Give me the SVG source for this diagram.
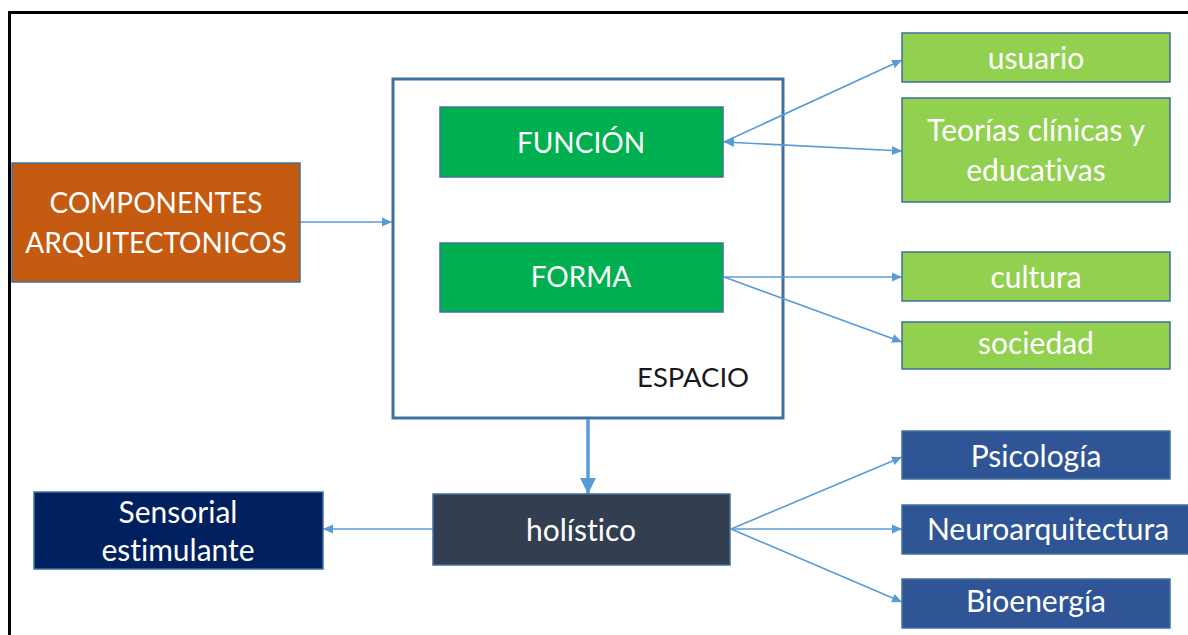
<svg xmlns="http://www.w3.org/2000/svg" width="1188" height="635" viewBox="0 0 1188 635">
<defs>
<style>
.t{font-family:Lato,"Liberation Sans",sans-serif;font-size:30px;fill:#ffffff;text-anchor:middle;font-variant-ligatures:none}
.u{font-size:28px}
.k{font-family:Lato,"Liberation Sans",sans-serif;font-size:27.5px;fill:#1a1a1a;font-variant-ligatures:none}
.box{stroke:#41719C;stroke-width:1.5}
.c{stroke:#5B9BD5;stroke-width:1.6;fill:none}
</style>
<marker id="ah" markerUnits="userSpaceOnUse" markerWidth="12" markerHeight="10" refX="10" refY="5" orient="auto-start-reverse" viewBox="0 0 12 10">
<path d="M0,0.5 L10,5 L0,9.5 Z" fill="#5B9BD5"/>
</marker>
<marker id="ahb" markerUnits="userSpaceOnUse" markerWidth="18" markerHeight="18" refX="16" refY="9" orient="auto" viewBox="0 0 18 18">
<path d="M0,1 L16,9 L0,17 Z" fill="#5B9BD5"/>
</marker>
</defs>
<rect width="1188" height="635" fill="#ffffff"/>
<rect x="9.5" y="12.5" width="1200" height="640" fill="none" stroke="#000000" stroke-width="3"/>

<g id="espacio">
<rect x="393" y="79" width="390" height="339" fill="#ffffff" stroke="#41719C" stroke-width="3"/>
<text class="k" x="637" y="387">ESPACIO</text>
</g>

<g id="connectors">
<line class="c" x1="300" y1="222" x2="392" y2="222" marker-end="url(#ah)"/>
<line class="c" x1="724" y1="142" x2="902" y2="60" marker-end="url(#ah)"/>
<line class="c" x1="724" y1="142" x2="902" y2="151" marker-start="url(#ah)" marker-end="url(#ah)"/>
<line class="c" x1="724" y1="277" x2="902" y2="277" marker-end="url(#ah)"/>
<line class="c" x1="724" y1="277" x2="902" y2="342" marker-end="url(#ah)"/>
<line x1="588" y1="419" x2="588" y2="494" stroke="#5B9BD5" stroke-width="3.5" marker-end="url(#ahb)"/>
<line class="c" x1="433" y1="529" x2="323" y2="529" marker-end="url(#ah)"/>
<line class="c" x1="731" y1="529" x2="902" y2="457" marker-end="url(#ah)"/>
<line class="c" x1="731" y1="529" x2="902" y2="529" marker-end="url(#ah)"/>
<line class="c" x1="731" y1="529" x2="902" y2="602" marker-end="url(#ah)"/>
</g>

<g id="componentes">
<rect class="box" x="12" y="163" width="288" height="119" fill="#C55A11"/>
<text class="t u" x="156" y="213">COMPONENTES</text>
<text class="t u" x="156" y="253">ARQUITECTONICOS</text>
</g>

<g id="funcion">
<rect class="box" x="440" y="107" width="283" height="70" fill="#00B050"/>
<text class="t u" x="581" y="153">FUNCIÓN</text>
</g>

<g id="forma">
<rect class="box" x="440" y="243" width="283" height="69" fill="#00B050"/>
<text class="t u" x="581" y="287">FORMA</text>
</g>

<g id="usuario">
<rect class="box" x="902" y="33" width="268" height="49" fill="#92D050"/>
<text class="t" x="1036" y="69">usuario</text>
</g>

<g id="teorias">
<rect class="box" x="902" y="98" width="268" height="104" fill="#92D050"/>
<text class="t" x="1036" y="141">Teorías clínicas y</text>
<text class="t" x="1036" y="181">educativas</text>
</g>

<g id="cultura">
<rect class="box" x="902" y="252" width="268" height="49" fill="#92D050"/>
<text class="t" x="1036" y="288">cultura</text>
</g>

<g id="sociedad">
<rect class="box" x="902" y="322" width="268" height="47" fill="#92D050"/>
<text class="t" x="1036" y="354">sociedad</text>
</g>

<g id="holistico">
<rect class="box" x="433" y="494" width="297" height="71" fill="#333F50"/>
<text class="t" x="581" y="541">holístico</text>
</g>

<g id="sensorial">
<rect class="box" x="34" y="492" width="289" height="77" fill="#002060"/>
<text class="t" x="178" y="523">Sensorial</text>
<text class="t" x="178" y="561">estimulante</text>
</g>

<g id="psicologia">
<rect class="box" x="902" y="431" width="268" height="48" fill="#2F5597"/>
<text class="t" x="1036" y="467">Psicología</text>
</g>

<g id="neuro">
<rect class="box" x="902" y="505" width="300" height="49" fill="#2F5597"/>
<text class="t" x="1048" y="540">Neuroarquitectura</text>
</g>

<g id="bioenergia">
<rect class="box" x="902" y="579" width="268" height="49" fill="#2F5597"/>
<text class="t" x="1036" y="612">Bioenergía</text>
</g>
</svg>
